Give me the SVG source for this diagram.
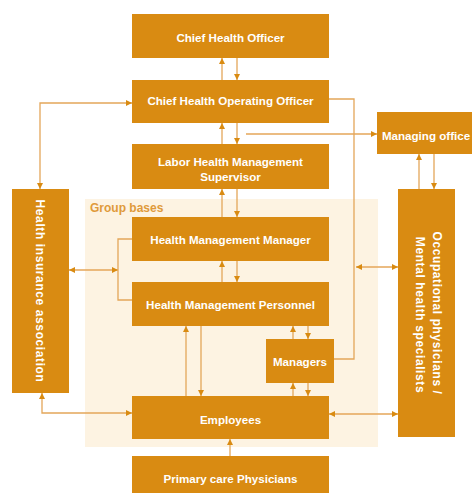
<svg xmlns="http://www.w3.org/2000/svg" width="472" height="493" viewBox="0 0 472 493">
<style>
.box{fill:#d98b12}
.t{font-family:"Liberation Sans",Arial,sans-serif;font-weight:bold;font-size:11.6px;fill:#ffffff;text-anchor:middle;dominant-baseline:central}
.v{font-size:12px;letter-spacing:0.6px}
.c{fill:none;stroke:#e4a659;stroke-width:1.3}
</style>
<defs>
<marker id="ah" markerUnits="userSpaceOnUse" markerWidth="8" markerHeight="8" viewBox="0 0 8 8" refX="7" refY="4" orient="auto-start-reverse">
<path d="M1,1 L7,4 L1,7 Z" fill="#d98b12"/>
</marker>
</defs>
<rect width="472" height="493" fill="#ffffff"/>
<g id="group-bases">
<rect x="85" y="199" width="293" height="248" fill="#fdf3e2"/>
<text x="90" y="208" font-family="'Liberation Sans',Arial,sans-serif" font-weight="bold" font-size="12" fill="#e09a3a" dominant-baseline="central">Group bases</text>
</g>
<g id="connectors">
<line class="c" x1="222" y1="80" x2="222" y2="58" marker-end="url(#ah)"/>
<line class="c" x1="237" y1="58" x2="237" y2="80" marker-end="url(#ah)"/>
<line class="c" x1="222" y1="144" x2="222" y2="123" marker-end="url(#ah)"/>
<line class="c" x1="237" y1="123" x2="237" y2="144" marker-end="url(#ah)"/>
<line class="c" x1="222" y1="217" x2="222" y2="189" marker-end="url(#ah)"/>
<line class="c" x1="237" y1="189" x2="237" y2="217" marker-end="url(#ah)"/>
<line class="c" x1="222" y1="282" x2="222" y2="261" marker-end="url(#ah)"/>
<line class="c" x1="237" y1="261" x2="237" y2="282" marker-end="url(#ah)"/>
<line class="c" x1="186" y1="396" x2="186" y2="326" marker-end="url(#ah)"/>
<line class="c" x1="201" y1="326" x2="201" y2="396" marker-end="url(#ah)"/>
<line class="c" x1="293" y1="339" x2="293" y2="326" marker-end="url(#ah)"/>
<line class="c" x1="308" y1="326" x2="308" y2="339" marker-end="url(#ah)"/>
<line class="c" x1="293" y1="396" x2="293" y2="383" marker-end="url(#ah)"/>
<line class="c" x1="308" y1="383" x2="308" y2="396" marker-end="url(#ah)"/>
<line class="c" x1="230" y1="456" x2="230" y2="439" marker-end="url(#ah)"/>
<path class="c" d="M40,189 V103 H132" marker-start="url(#ah)" marker-end="url(#ah)"/>
<path class="c" d="M329,99 H354 V359 H334"/>
<line class="c" x1="246" y1="134" x2="377" y2="134" marker-end="url(#ah)"/>
<line class="c" x1="419" y1="189" x2="419" y2="154" marker-end="url(#ah)"/>
<line class="c" x1="434" y1="154" x2="434" y2="189" marker-end="url(#ah)"/>
<line class="c" x1="69" y1="270" x2="118" y2="270" marker-start="url(#ah)" marker-end="url(#ah)"/>
<path class="c" d="M132,239 H118 V300 H132"/>
<line class="c" x1="356" y1="267" x2="398" y2="267" marker-start="url(#ah)" marker-end="url(#ah)"/>
<path class="c" d="M42,393 V413 H132" marker-start="url(#ah)" marker-end="url(#ah)"/>
<line class="c" x1="329" y1="414" x2="398" y2="414" marker-start="url(#ah)" marker-end="url(#ah)"/>
</g>
<g id="chief-health-officer">
<rect class="box" x="132" y="14" width="197" height="44"/>
<text class="t" x="230.5" y="37">Chief Health Officer</text>
</g>
<g id="chief-health-operating-officer">
<rect class="box" x="132" y="80" width="197" height="43"/>
<text class="t" x="230.5" y="100">Chief Health Operating Officer</text>
</g>
<g id="managing-office">
<rect class="box" x="377" y="112" width="100" height="42"/>
<text class="t" x="426" y="135">Managing office</text>
</g>
<g id="labor-health-management-supervisor">
<rect class="box" x="132" y="144" width="197" height="45"/>
<text class="t" x="230.5" y="161">Labor Health Management</text>
<text class="t" x="230.5" y="176">Supervisor</text>
</g>
<g id="health-insurance-association">
<rect class="box" x="12" y="189" width="57" height="204"/>
<text class="t v" transform="translate(40,291) rotate(90)">Health insurance association</text>
</g>
<g id="occupational-physicians">
<rect class="box" x="398" y="189" width="57" height="248"/>
<text class="t v" transform="translate(437,313) rotate(90)">Occupational physicians /</text>
<text class="t v" transform="translate(420,315) rotate(90)">Mental health specialists</text>
</g>
<g id="health-management-manager">
<rect class="box" x="132" y="217" width="197" height="44"/>
<text class="t" x="230.5" y="239">Health Management Manager</text>
</g>
<g id="health-management-personnel">
<rect class="box" x="132" y="282" width="197" height="44"/>
<text class="t" x="230.5" y="304">Health Management Personnel</text>
</g>
<g id="managers">
<rect class="box" x="266" y="339" width="68" height="44"/>
<text class="t" x="300" y="361">Managers</text>
</g>
<g id="employees">
<rect class="box" x="132" y="396" width="197" height="43"/>
<text class="t" x="230.5" y="419">Employees</text>
</g>
<g id="primary-care-physicians">
<rect class="box" x="132" y="456" width="197" height="40"/>
<text class="t" x="230.5" y="478">Primary care Physicians</text>
</g>
</svg>
